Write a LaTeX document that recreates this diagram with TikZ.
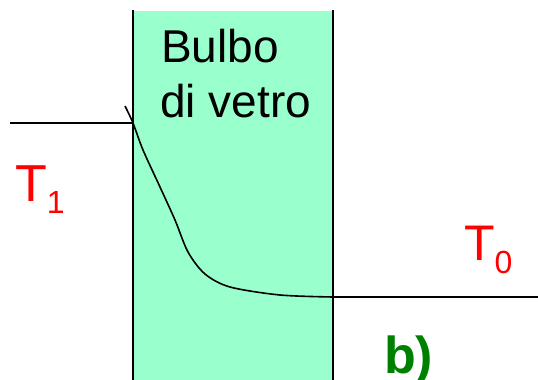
\documentclass[tikz,border=0pt]{standalone}
\usepackage{fontspec}
\setmainfont{Liberation Sans}
\definecolor{bulbfill}{HTML}{99FFCC}
\definecolor{labred}{HTML}{FF0000}
\definecolor{labgreen}{HTML}{008000}
\tikzset{
  wall/.style={draw=black, line width=1.6pt},
  trace/.style={draw=black, line width=1.6pt},
  lbl/.style={inner sep=0pt, anchor=base west},
}
\begin{document}
\begin{tikzpicture}[x=1pt,y=-1pt]
\useasboundingbox (0,0) rectangle (538,380);
\fill[bulbfill] (133,11) rectangle (333,380);
\coordinate (wl1) at (133,10);
\coordinate (wl2) at (133,380);
\coordinate (wr1) at (333,10);
\coordinate (wr2) at (333,380);
\draw[wall] (wl1) -- (wl2);
\draw[wall] (wr1) -- (wr2);
\coordinate (a0) at (10,123);
\coordinate (a1) at (133,123);
\draw[trace] (a0) -- (a1);
\coordinate (b0) at (333,297);
\coordinate (b1) at (538,297);
\draw[trace] (b0) -- (b1);
\draw[trace] plot[smooth, tension=0.5] coordinates {(125,106) (133,123) (143,150) (160,187) (175,220) (188,252) (205,274) (230,287) (280,295) (333,297)};
\node[lbl, font=\fontsize{46}{55}\selectfont] (bulbo) at (161,62) {Bulbo};
\node[lbl, font=\fontsize{46}{55}\selectfont] (vetro) at (160,117) {di vetro};
\node[lbl, text=labred, font=\fontsize{52}{60}\selectfont] (t1) at (15,201) {T\raisebox{-12pt}{\fontsize{32}{36}\selectfont 1}};
\node[lbl, text=labred, font=\fontsize{50}{60}\selectfont] (t0) at (464,260) {T\raisebox{-13pt}{\fontsize{32}{36}\selectfont 0}};
\node[lbl, text=labgreen, font=\fontsize{52}{60}\selectfont\bfseries] (lb) at (384,373) {b)};
\end{tikzpicture}
\end{document}
